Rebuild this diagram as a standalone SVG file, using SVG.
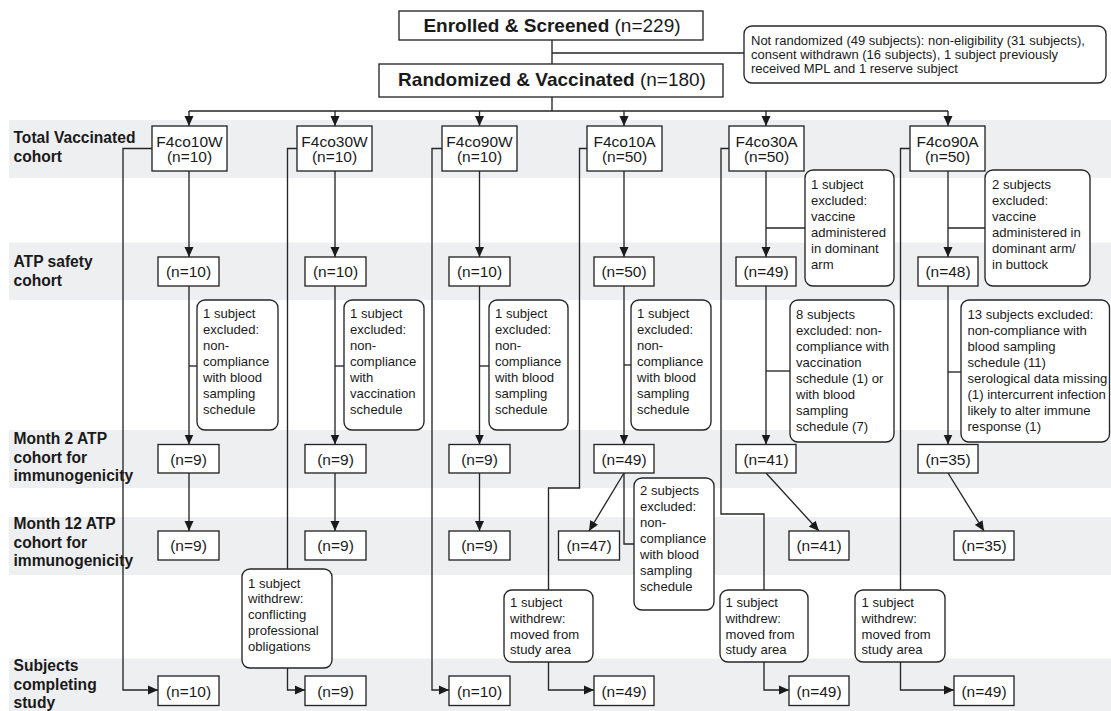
<svg xmlns="http://www.w3.org/2000/svg" width="1111" height="711" viewBox="0 0 1111 711">
<style>
.band{fill:#eeeff1}
.box{fill:#fff;stroke:#262626;stroke-width:1.35}
.rbox{fill:#fff;stroke:#262626;stroke-width:1.35;rx:8px;ry:8px}
.ln{fill:none;stroke:#262626;stroke-width:1.35}
.arr{marker-end:url(#ah)}
text{font-family:"Liberation Sans",Arial,Helvetica,sans-serif;fill:#1a1a1a}
.t{font-size:13.1px}
.tn{font-size:13px}
.tb{font-size:15.5px;text-anchor:middle}
.lab{font-size:15.6px;font-weight:bold}
.hd{font-size:19px;text-anchor:middle}
.b{font-weight:bold}
</style>
<defs>
<marker id="ah" markerUnits="userSpaceOnUse" viewBox="0 0 10 10" markerWidth="10" markerHeight="10" refX="10" refY="5" orient="auto">
<path d="M0,0.5 L10,5 L0,9.5 z" fill="#1a1a1a"/>
</marker>
</defs>

<g id="bands">
<rect class="band" x="9" y="120" width="1102" height="58"/>
<rect class="band" x="9" y="242.5" width="1102" height="57.5"/>
<rect class="band" x="9" y="430" width="1102" height="58"/>
<rect class="band" x="9" y="517" width="1102" height="58"/>
<rect class="band" x="9" y="658.5" width="1102" height="52.5"/>
</g>

<g id="row-labels" class="lab">
<text x="13.5" y="143">Total Vaccinated<tspan x="13.5" dy="18.5">cohort</tspan></text>
<text x="13.5" y="267">ATP safety<tspan x="13.5" dy="18.5">cohort</tspan></text>
<text x="13.5" y="444">Month 2 ATP<tspan x="13.5" dy="18.5">cohort for</tspan><tspan x="13.5" dy="18.5">immunogenicity</tspan></text>
<text x="13.5" y="529">Month 12 ATP<tspan x="13.5" dy="18.5">cohort for</tspan><tspan x="13.5" dy="18.5">immunogenicity</tspan></text>
<text x="13.5" y="671">Subjects<tspan x="13.5" dy="18.5">completing</tspan><tspan x="13.5" dy="18.5">study</tspan></text>
</g>

<g id="connectors">
<path class="ln" d="M552,40 V64 M552,53 H744 M552,97 V111 M189,111 H948"/>
<path class="ln arr" d="M189,111 V126"/>
<path class="ln arr" d="M335,111 V126"/>
<path class="ln arr" d="M479.5,111 V126"/>
<path class="ln arr" d="M624,111 V126"/>
<path class="ln arr" d="M766,111 V126"/>
<path class="ln arr" d="M948,111 V126"/>
<path class="ln arr" d="M189,171 V257"/>
<path class="ln arr" d="M189,286 V444.5"/>
<path class="ln" d="M189,366 H197"/>
<path class="ln arr" d="M189,473 V531"/>
<path class="ln arr" d="M152,148.5 H123 V690 H158"/>
<path class="ln arr" d="M335,171 V257"/>
<path class="ln arr" d="M335,286 V444.5"/>
<path class="ln" d="M335,366 H344"/>
<path class="ln arr" d="M335,473 V531"/>
<path class="ln" d="M297,148.5 H287.5 V569"/>
<path class="ln arr" d="M287.5,668 V690 H305"/>
<path class="ln arr" d="M479.5,171 V257"/>
<path class="ln arr" d="M479.5,286 V444.5"/>
<path class="ln" d="M479.5,366 H489"/>
<path class="ln arr" d="M479.5,473 V531"/>
<path class="ln arr" d="M442,148.5 H432 V690 H449"/>
<path class="ln arr" d="M624,171 V257"/>
<path class="ln arr" d="M624,286 V444.5"/>
<path class="ln" d="M624,365 H631"/>
<path class="ln arr" d="M624,473 L589,531"/>
<path class="ln" d="M624,473 V544 H634"/>
<path class="ln" d="M587,148.5 H579.5 V488 H548.5 V590"/>
<path class="ln arr" d="M548.5,662 V690 H594"/>
<path class="ln arr" d="M766,171 V257"/>
<path class="ln" d="M766,228 H805"/>
<path class="ln arr" d="M766,286 V444.5"/>
<path class="ln" d="M766,371 H790"/>
<path class="ln arr" d="M766,473 L819,531"/>
<path class="ln" d="M729,148.5 H721 V514 H764 V590"/>
<path class="ln arr" d="M764,662 V690 H789"/>
<path class="ln arr" d="M948,171 V257"/>
<path class="ln" d="M948,228 H985"/>
<path class="ln arr" d="M948,286 V444.5"/>
<path class="ln" d="M948,372 H961"/>
<path class="ln arr" d="M948,473 L984,531"/>
<path class="ln" d="M910,148.5 H900.5 V590"/>
<path class="ln arr" d="M900.5,662 V690 H954"/>
</g>

<g id="enrolled">
<rect class="box" x="399" y="11" width="304" height="29"/>
<text class="hd" x="552" y="32"><tspan class="b">Enrolled &amp; Screened</tspan> (n=229)</text>
</g>
<g id="randomized">
<rect class="box" x="379" y="64" width="344" height="33"/>
<text class="hd" x="552" y="85.5"><tspan class="b">Randomized &amp; Vaccinated</tspan> (n=180)</text>
</g>
<g id="not-randomized">
<rect class="rbox" x="744" y="26" width="362" height="57"/>
<text class="tn" x="751" y="44.5">Not randomized (49 subjects): non-eligibility (31 subjects),<tspan x="751" dy="14.3">consent withdrawn (16 subjects), 1 subject previously</tspan><tspan x="751" dy="14.3">received MPL and 1 reserve subject</tspan></text>
</g>

<g id="tv-f4co10w"><rect class="box" x="152" y="126" width="75" height="45"/><text class="tb" x="189.5" y="146.7">F4co10W<tspan x="189.5" dy="15">(n=10)</tspan></text></g>
<g id="tv-f4co30w"><rect class="box" x="297" y="126" width="75" height="45"/><text class="tb" x="334.5" y="146.7">F4co30W<tspan x="334.5" dy="15">(n=10)</tspan></text></g>
<g id="tv-f4co90w"><rect class="box" x="442" y="126" width="75" height="45"/><text class="tb" x="479.5" y="146.7">F4co90W<tspan x="479.5" dy="15">(n=10)</tspan></text></g>
<g id="tv-f4co10a"><rect class="box" x="587" y="126" width="75" height="45"/><text class="tb" x="624.5" y="146.7">F4co10A<tspan x="624.5" dy="15">(n=50)</tspan></text></g>
<g id="tv-f4co30a"><rect class="box" x="729" y="126" width="75" height="45"/><text class="tb" x="766.5" y="146.7">F4co30A<tspan x="766.5" dy="15">(n=50)</tspan></text></g>
<g id="tv-f4co90a"><rect class="box" x="910" y="126" width="75" height="45"/><text class="tb" x="947.5" y="146.7">F4co90A<tspan x="947.5" dy="15">(n=50)</tspan></text></g>

<g id="atp-1"><rect class="box" x="158" y="257" width="61" height="29"/><text class="tb" x="188.5" y="277">(n=10)</text></g>
<g id="atp-2"><rect class="box" x="305" y="257" width="61" height="29"/><text class="tb" x="335.5" y="277">(n=10)</text></g>
<g id="atp-3"><rect class="box" x="449" y="257" width="61" height="29"/><text class="tb" x="479.5" y="277">(n=10)</text></g>
<g id="atp-4"><rect class="box" x="594" y="257" width="60" height="29"/><text class="tb" x="624" y="277">(n=50)</text></g>
<g id="atp-5"><rect class="box" x="736" y="257" width="60" height="29"/><text class="tb" x="766" y="277">(n=49)</text></g>
<g id="atp-6"><rect class="box" x="918" y="257" width="60" height="29"/><text class="tb" x="948" y="277">(n=48)</text></g>

<g id="excl-atp-5"><rect class="rbox" x="805" y="170" width="89" height="116"/><text class="t" x="811" y="188.5">1 subject<tspan x="811" dy="16">excluded:</tspan><tspan x="811" dy="16">vaccine</tspan><tspan x="811" dy="16">administered</tspan><tspan x="811" dy="16">in dominant</tspan><tspan x="811" dy="16">arm</tspan></text></g>
<g id="excl-atp-6"><rect class="rbox" x="985" y="170" width="105" height="116"/><text class="t" x="992" y="188.5">2 subjects<tspan x="992" dy="16">excluded:</tspan><tspan x="992" dy="16">vaccine</tspan><tspan x="992" dy="16">administered in</tspan><tspan x="992" dy="16">dominant arm/</tspan><tspan x="992" dy="16">in buttock</tspan></text></g>

<g id="excl-m2-1"><rect class="rbox" x="197" y="300" width="81" height="130"/><text class="t" x="203" y="317.5">1 subject<tspan x="203" dy="16">excluded:</tspan><tspan x="203" dy="16">non-</tspan><tspan x="203" dy="16">compliance</tspan><tspan x="203" dy="16">with blood</tspan><tspan x="203" dy="16">sampling</tspan><tspan x="203" dy="16">schedule</tspan></text></g>
<g id="excl-m2-2"><rect class="rbox" x="344" y="300" width="80" height="130"/><text class="t" x="350" y="317.5">1 subject<tspan x="350" dy="16">excluded:</tspan><tspan x="350" dy="16">non-</tspan><tspan x="350" dy="16">compliance</tspan><tspan x="350" dy="16">with</tspan><tspan x="350" dy="16">vaccination</tspan><tspan x="350" dy="16">schedule</tspan></text></g>
<g id="excl-m2-3"><rect class="rbox" x="489" y="300" width="79" height="130"/><text class="t" x="495" y="317.5">1 subject<tspan x="495" dy="16">excluded:</tspan><tspan x="495" dy="16">non-</tspan><tspan x="495" dy="16">compliance</tspan><tspan x="495" dy="16">with blood</tspan><tspan x="495" dy="16">sampling</tspan><tspan x="495" dy="16">schedule</tspan></text></g>
<g id="excl-m2-4"><rect class="rbox" x="631" y="300" width="80" height="130"/><text class="t" x="637" y="317.5">1 subject<tspan x="637" dy="16">excluded:</tspan><tspan x="637" dy="16">non-</tspan><tspan x="637" dy="16">compliance</tspan><tspan x="637" dy="16">with blood</tspan><tspan x="637" dy="16">sampling</tspan><tspan x="637" dy="16">schedule</tspan></text></g>
<g id="excl-m2-5"><rect class="rbox" x="790" y="300" width="104" height="142"/><text class="t" x="796" y="318.5">8 subjects<tspan x="796" dy="16">excluded: non-</tspan><tspan x="796" dy="16">compliance with</tspan><tspan x="796" dy="16">vaccination</tspan><tspan x="796" dy="16">schedule (1) or</tspan><tspan x="796" dy="16">with blood</tspan><tspan x="796" dy="16">sampling</tspan><tspan x="796" dy="16">schedule (7)</tspan></text></g>
<g id="excl-m2-6"><rect class="rbox" x="961" y="300" width="148.5" height="142"/><text class="t" x="967.5" y="318.5">13 subjects excluded:<tspan x="967.5" dy="16">non-compliance with</tspan><tspan x="967.5" dy="16">blood sampling</tspan><tspan x="967.5" dy="16">schedule (11)</tspan><tspan x="967.5" dy="16">serological data missing</tspan><tspan x="967.5" dy="16">(1) intercurrent infection</tspan><tspan x="967.5" dy="16">likely to alter immune</tspan><tspan x="967.5" dy="16">response (1)</tspan></text></g>

<g id="m2-1"><rect class="box" x="158" y="444.5" width="61" height="28.5"/><text class="tb" x="188.5" y="464.5">(n=9)</text></g>
<g id="m2-2"><rect class="box" x="305" y="444.5" width="61" height="28.5"/><text class="tb" x="335.5" y="464.5">(n=9)</text></g>
<g id="m2-3"><rect class="box" x="449" y="444.5" width="61" height="28.5"/><text class="tb" x="479.5" y="464.5">(n=9)</text></g>
<g id="m2-4"><rect class="box" x="594" y="444.5" width="60" height="28.5"/><text class="tb" x="624" y="464.5">(n=49)</text></g>
<g id="m2-5"><rect class="box" x="736" y="444.5" width="60" height="28.5"/><text class="tb" x="766" y="464.5">(n=41)</text></g>
<g id="m2-6"><rect class="box" x="918" y="444.5" width="60" height="28.5"/><text class="tb" x="948" y="464.5">(n=35)</text></g>

<g id="excl-m12-4"><rect class="rbox" x="634" y="478" width="80" height="132"/><text class="t" x="640" y="495">2 subjects<tspan x="640" dy="16">excluded:</tspan><tspan x="640" dy="16">non-</tspan><tspan x="640" dy="16">compliance</tspan><tspan x="640" dy="16">with blood</tspan><tspan x="640" dy="16">sampling</tspan><tspan x="640" dy="16">schedule</tspan></text></g>

<g id="m12-1"><rect class="box" x="158" y="531" width="61" height="29"/><text class="tb" x="188.5" y="551">(n=9)</text></g>
<g id="m12-2"><rect class="box" x="305" y="531" width="61" height="29"/><text class="tb" x="335.5" y="551">(n=9)</text></g>
<g id="m12-3"><rect class="box" x="449" y="531" width="61" height="29"/><text class="tb" x="479.5" y="551">(n=9)</text></g>
<g id="m12-4"><rect class="box" x="558.5" y="531" width="61" height="29"/><text class="tb" x="589" y="551">(n=47)</text></g>
<g id="m12-5"><rect class="box" x="789" y="531" width="60" height="29"/><text class="tb" x="819" y="551">(n=41)</text></g>
<g id="m12-6"><rect class="box" x="954" y="531" width="60" height="29"/><text class="tb" x="984" y="551">(n=35)</text></g>

<g id="wd-2"><rect class="rbox" x="242" y="569" width="90" height="99"/><text class="t" x="248" y="587.5">1 subject<tspan x="248" dy="15.8">withdrew:</tspan><tspan x="248" dy="15.8">conflicting</tspan><tspan x="248" dy="15.8">professional</tspan><tspan x="248" dy="15.8">obligations</tspan></text></g>
<g id="wd-4"><rect class="rbox" x="504" y="590" width="89" height="72"/><text class="t" x="510" y="607">1 subject<tspan x="510" dy="15.8">withdrew:</tspan><tspan x="510" dy="15.8">moved from</tspan><tspan x="510" dy="15.8">study area</tspan></text></g>
<g id="wd-5"><rect class="rbox" x="720" y="590" width="88" height="72"/><text class="t" x="725.5" y="607">1 subject<tspan x="725.5" dy="15.8">withdrew:</tspan><tspan x="725.5" dy="15.8">moved from</tspan><tspan x="725.5" dy="15.8">study area</tspan></text></g>
<g id="wd-6"><rect class="rbox" x="855" y="590" width="90" height="72"/><text class="t" x="861.5" y="607">1 subject<tspan x="861.5" dy="15.8">withdrew:</tspan><tspan x="861.5" dy="15.8">moved from</tspan><tspan x="861.5" dy="15.8">study area</tspan></text></g>

<g id="end-1"><rect class="box" x="158" y="676" width="61" height="29.5"/><text class="tb" x="188.5" y="696.5">(n=10)</text></g>
<g id="end-2"><rect class="box" x="305" y="676" width="61" height="29.5"/><text class="tb" x="335.5" y="696.5">(n=9)</text></g>
<g id="end-3"><rect class="box" x="449" y="676" width="61" height="29.5"/><text class="tb" x="479.5" y="696.5">(n=10)</text></g>
<g id="end-4"><rect class="box" x="594" y="676" width="60" height="29.5"/><text class="tb" x="624" y="696.5">(n=49)</text></g>
<g id="end-5"><rect class="box" x="789" y="676" width="60" height="29.5"/><text class="tb" x="819" y="696.5">(n=49)</text></g>
<g id="end-6"><rect class="box" x="954" y="676" width="60" height="29.5"/><text class="tb" x="984" y="696.5">(n=49)</text></g>
</svg>
